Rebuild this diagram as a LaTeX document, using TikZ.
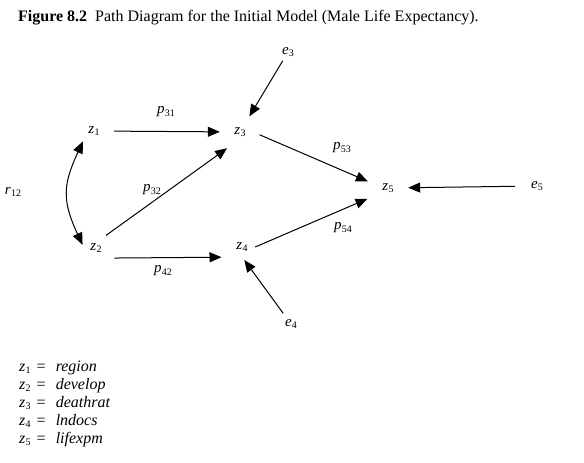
\documentclass[tikz,border=0pt]{standalone}
\usepackage{fontspec}
\setmainfont{Liberation Serif}
\usepackage{tikz}
\usetikzlibrary{arrows.meta, positioning, calc}
\newcommand{\pvar}[2]{\textit{#1}\kern0.3pt\raisebox{-0.35ex}{\fontsize{10}{10}\selectfont #2}}
\newcommand{\legeq}{\hspace{6pt}=\hspace{10pt}}

\begin{document}
\begin{tikzpicture}[
        x=1pt, y=-1pt,
        var/.style={circle, minimum size=26pt, inner sep=0pt, font=\fontsize{15}{15}\selectfont},
        err/.style={circle, minimum size=18pt, inner sep=0pt, font=\fontsize{15}{15}\selectfont},
        coef/.style={inner sep=1pt, font=\fontsize{15}{15}\selectfont},
        path/.style={-{Triangle[length=12pt, width=10pt]}, line width=1pt, draw=black},
        legend/.style={anchor=base west, inner sep=0pt, font=\fontsize{16}{16}\selectfont}
    ]
        \useasboundingbox (0,0) rectangle (584,463);

        % Caption
        \node[anchor=base west, inner sep=0pt, font=\fontsize{16}{16}\selectfont] (caption) at (18,21)
            {\textbf{Figure 8.2}\enspace Path Diagram for the Initial Model (Male Life Expectancy).};

        % Variables
        \node[var] (z1) at (94,131) {\pvar{z}{1}};
        \node[var] (z2) at (96,248) {\pvar{z}{2}};
        \node[var] (z3) at (240,132) {\pvar{z}{3}};
        \node[var] (z4) at (242,247) {\pvar{z}{4}};
        \node[var] (z5) at (388,188) {\pvar{z}{5}};

        % Errors
        \node[err] (e3) at (288,52) {\pvar{e}{3}};
        \node[err] (e4) at (291,324) {\pvar{e}{4}};
        \node[err] (e5) at (537,186) {\pvar{e}{5}};

        % Correlation
        \node[coef] (r12) at (13,192) {\pvar{r}{12}};
        \draw[{Triangle[length=12pt, width=10pt]}-{Triangle[length=12pt, width=10pt]}, line width=1pt,
              shorten <=2pt, shorten >=1pt]
            (z1.220) to[out=245, in=115, looseness=1.2] (z2.170);

        % Paths
        \draw[path, shorten <=7pt, shorten >=7pt] (z1) -- (z3);
        \draw[path, shorten <=10pt, shorten >=12pt] (z2.-50) -- (z4.230);
        \draw[path, shorten <=3pt, shorten >=8pt] (z2.55) -- (z3.241);
        \draw[path, shorten <=1pt, shorten >=5pt] (e3) -- (z3);
        \draw[path, shorten <=4pt, shorten >=0pt] (e4) -- (z4.-80);
        \draw[path, shorten <=7pt, shorten >=8pt] (z3.east) -- (z5.165);
        \draw[path, shorten <=0pt, shorten >=10pt] (z4.east) -- (z5.211);
        \draw[path, shorten <=13pt, shorten >=7pt] (e5) -- (z5);

        % Coefficients
        \node[coef] (p31) at (166,112) {\pvar{p}{31}};
        \node[coef] (p32) at (152,190) {\pvar{p}{32}};
        \node[coef] (p42) at (163,271) {\pvar{p}{42}};
        \node[coef] (p53) at (342,148) {\pvar{p}{53}};
        \node[coef] (p54) at (343,228) {\pvar{p}{54}};

        % Legend
        \node[legend] (l1) at (19,371) {\pvar{z}{1}\legeq\textit{region}};
        \node[legend] (l2) at (19,389) {\pvar{z}{2}\legeq\textit{develop}};
        \node[legend] (l3) at (19,407) {\pvar{z}{3}\legeq\textit{deathrat}};
        \node[legend] (l4) at (19,425) {\pvar{z}{4}\legeq\textit{lndocs}};
        \node[legend] (l5) at (19,443) {\pvar{z}{5}\legeq\textit{lifexpm}};
    \end{tikzpicture}
\end{document}
